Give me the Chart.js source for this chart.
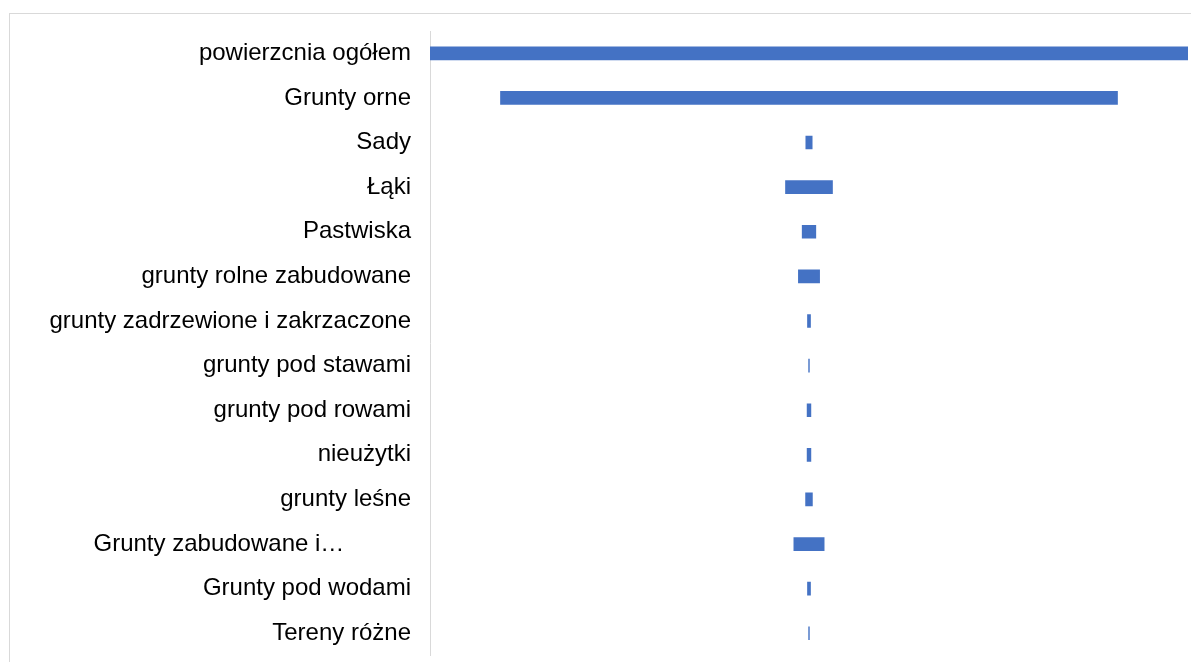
<!DOCTYPE html>
<html><head><meta charset="utf-8">
<script src="https://cdn.jsdelivr.net/npm/chart.js@4"></script>
<style>
html,body{margin:0;padding:0;background:#fff;overflow:hidden}
#frame{position:absolute;left:9px;top:13px;width:1182px;height:649px;border-top:1px solid #d9d9d9;border-left:1px solid #d9d9d9}
#wrap{position:absolute;left:0;top:0;width:1191px;height:662px;overflow:hidden}
</style></head><body>
<div id="frame"></div>
<div id="wrap"><canvas id="c" width="1191" height="681"></canvas></div>
<script>
const categories = ["powierzcnia ogółem","Grunty orne","Sady","Łąki","Pastwiska","grunty rolne zabudowane","grunty zadrzewione i zakrzaczone","grunty pod stawami","grunty pod rowami","nieużytki","grunty leśne","Grunty zabudowane i zurbanizowane","Grunty pod wodami","Tereny różne"];
const tickLabels = ["powierzcnia ogółem","Grunty orne","Sady","Łąki","Pastwiska","grunty rolne zabudowane","grunty zadrzewione i zakrzaczone","grunty pod stawami","grunty pod rowami","nieużytki","grunty leśne","Grunty zabudowane i…\u00a0\u00a0\u00a0\u00a0\u00a0\u00a0\u00a0\u00a0\u00a0\u00a0","Grunty pod wodami","Tereny różne"];
const values = [100, 81.4, 0.84, 6.2, 1.8, 2.8, 0.4, 0.1, 0.5, 0.5, 0.9, 4.0, 0.4, 0.1];
const total = values[0];
const floating = values.map(v => [(total - v) / 2, (total + v) / 2]);

new Chart(document.getElementById('c'), {
  type: 'bar',
  data: {
    labels: categories,
    datasets: [{
      data: floating,
      backgroundColor: '#4472C4',
      borderWidth: 0,
      barThickness: 13,
      borderSkipped: false
    }]
  },
  options: {
    indexAxis: 'y',
    responsive: false,
    animation: false,
    layout: { padding: { left: 0, right: 3, top: 31, bottom: 7 } },
    plugins: { legend: { display: false }, tooltip: { enabled: false } },
    scales: {
      x: { display: false, min: 0, max: total },
      y: {
        afterFit: s => { s.width = 430; },
        grid: { display: false },
        border: { display: true, color: '#d9d9d9', width: 1 },
        ticks: {
          padding: 11,
          color: '#000',
          font: { family: 'Liberation Sans, Arial, sans-serif', size: 24 },
          callback: (v, i) => tickLabels[i]
        }
      }
    }
  }
});
</script>
</body></html>
